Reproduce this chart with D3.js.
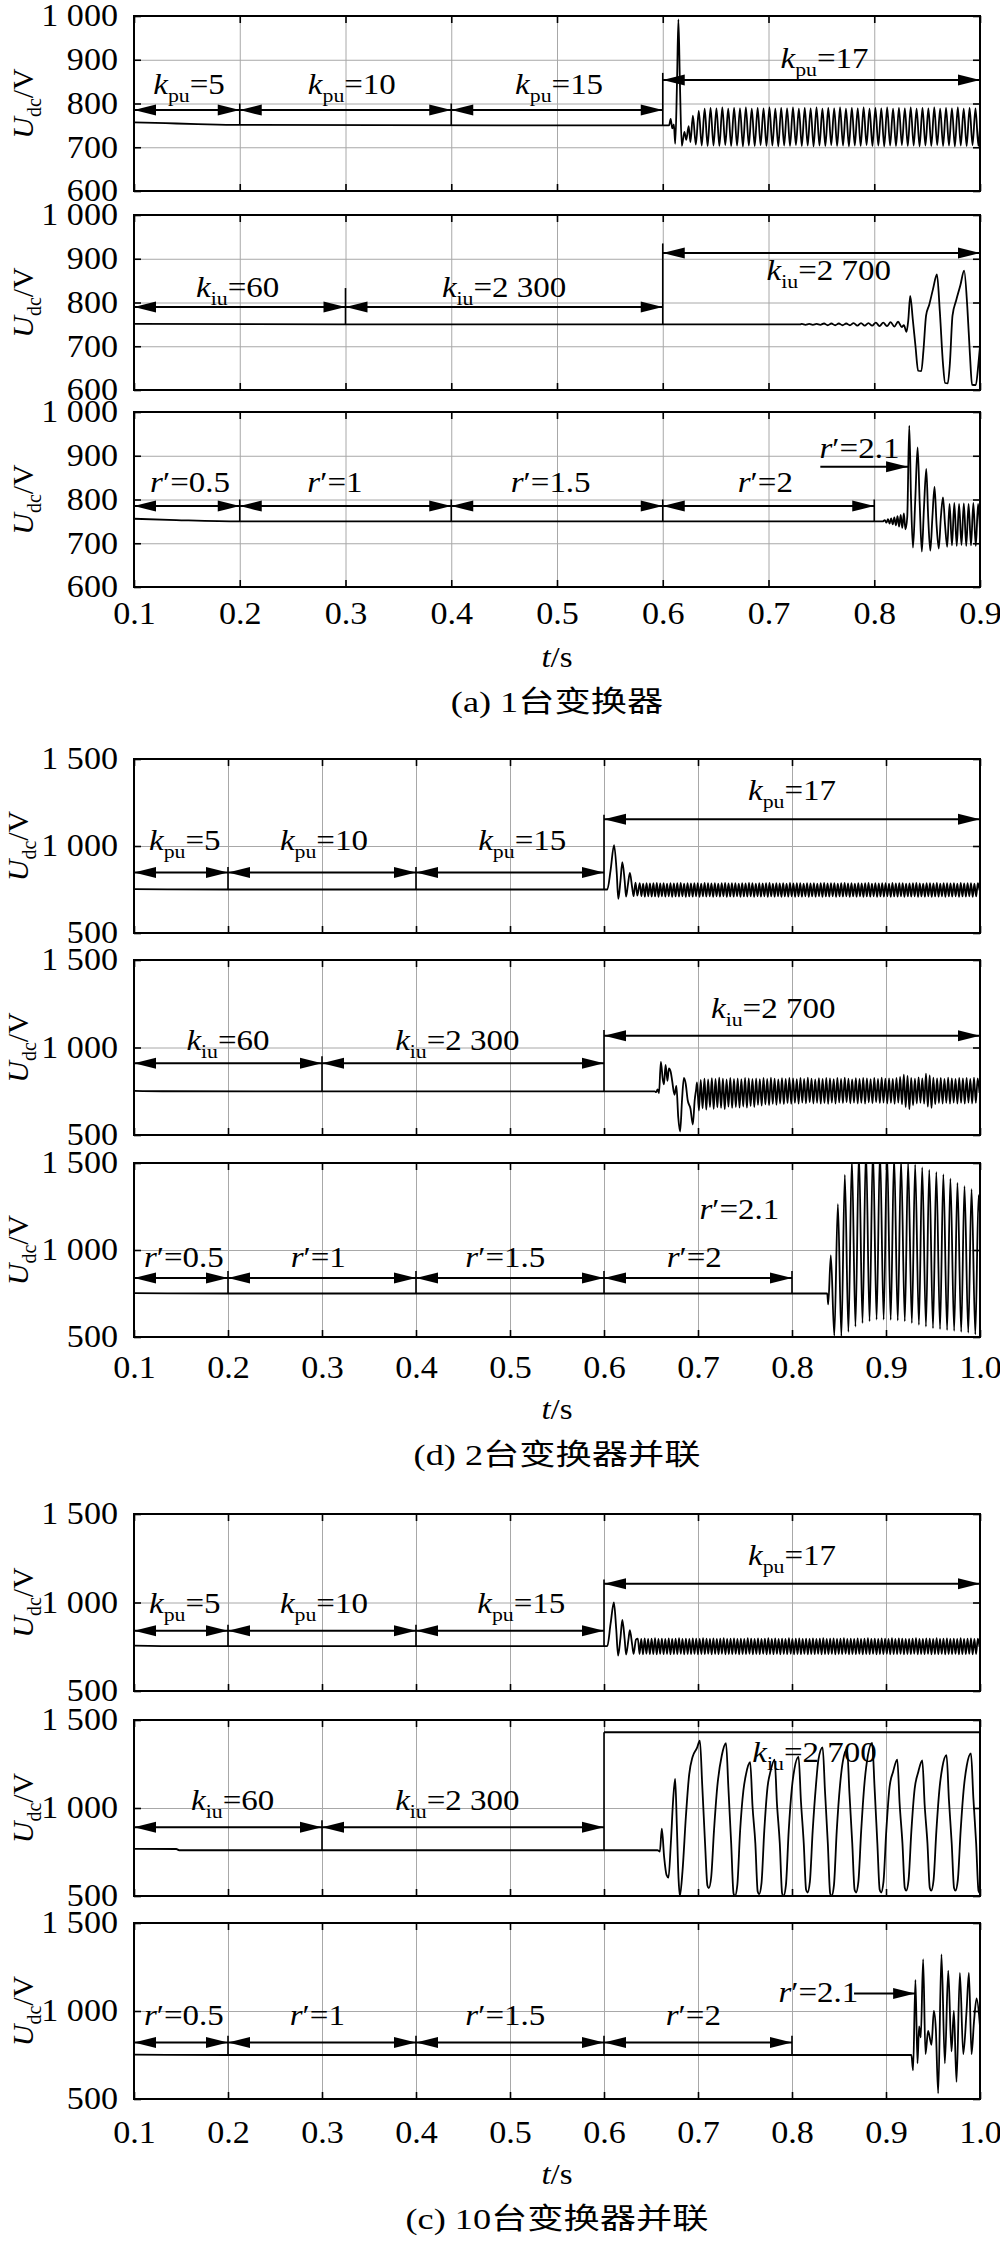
<!DOCTYPE html>
<html><head><meta charset="utf-8">
<script src="https://d3js.org/d3.v7.min.js"></script>
<style>
html,body{margin:0;padding:0;background:#fff;}
svg text{fill:#000;}
</style></head><body>
<svg id="chart" width="1000" height="2242" xmlns="http://www.w3.org/2000/svg"></svg>
<script>
// ================= DATA =================
const xTicksA = [0.1,0.2,0.3,0.4,0.5,0.6,0.7,0.8,0.9];
const xTickLabelsA = ["0.1","0.2","0.3","0.4","0.5","0.6","0.7","0.8","0.9"];
const xTicksB = [0.1,0.2,0.3,0.4,0.5,0.6,0.7,0.8,0.9,1.0];
const xTickLabelsB = ["0.1","0.2","0.3","0.4","0.5","0.6","0.7","0.8","0.9","1.0"];
const yTicksA = [600,700,800,900,1000];
const yTickLabelsA = ["600","700","800","900","1 000"];
const yTicksB = [500,1000,1500];
const yTickLabelsB = ["500","1 000","1 500"];
const captions = ["(a) 1台变换器","(d) 2台变换器并联","(c) 10台变换器并联"];

// ---- (a) panel 1 : k_pu ----
const a1_pre = [[0.1,757],[0.13,755],[0.16,753],[0.2,751],[0.45,750],[0.6,750],[0.606,750],[0.6075,765],[0.609,743],[0.6105,752],[0.6118,708],[0.6135,850],[0.6148,992],[0.6162,850],[0.618,703],[0.6205,735],[0.6222,717],[0.6245,748],[0.6262,712]];
const a1_ripSpan = [0.6285, 0.8985];
const a1_rip = [772,706,783,704,788,703,790,704,789,703,791,705,788,703,790,704,789,702,791,704,
 788,703,790,705,789,703,791,704,788,702,790,704,789,703,791,705,788,703,790,704,
 789,702,791,704,788,703,790,705,789,703,791,704,788,702,790,704,789,703,791,705,
 788,703,790,704,789,702,791,704,788,703,790,705,789,703,791,704,788,702,790,704,
 789,703,791,705,788,703,790,704,789,702,791,704,788,703,790,705,789,703];
const a1_post = [[0.9,750]];
const a1_arrows = [[0.1,0.2,785,3],[0.2,0.4,785,3],[0.4,0.6,785,3],[0.6,0.9,854,3]];
const a1_labels = [["k","pu","=5",0.152,822],["k","pu","=10",0.306,822],["k","pu","=15",0.502,822],["k","pu","=17",0.753,881]];
const a1_marks = [[0.2,800,751],[0.4,800,750],[0.6,870,750]];

// ---- (a) panel 2 : k_iu ----
const a2_pre = [[0.1,751],[0.3,750],[0.6,750],[0.73,750]];
const a2_ripSpan = [0.7315, 0.826];
const a2_rip = [751,749,751,749,751,749,752,748,752,748,752,748,752,748,753,747,753,747,753,747,754,746,754,746,755,745,756,744];
const a2_post = [[0.828,748],[0.8305,733],[0.8322,760],[0.834,815],[0.8365,760],[0.839,700],[0.8415,644],[0.8445,643],[0.8465,690],[0.849,770],[0.852,795],[0.8555,830],[0.8593,864],[0.862,780],[0.865,660],[0.867,616],[0.8695,615],[0.8715,660],[0.874,770],[0.8775,805],[0.8815,840],[0.885,873],[0.888,790],[0.8905,680],[0.8925,612],[0.896,611],[0.8985,660],[0.9,700]];
const a2_arrows = [[0.1,0.3,790,3],[0.3,0.6,790,3],[0.6,0.9,913,3]];
const a2_labels = [["k","iu","=60",0.198,813],["k","iu","=2 300",0.45,813],["k","iu","=2 700",0.757,851]];
const a2_marks = [[0.3,833,750],[0.6,935,750]];

// ---- (a) panel 3 : r' ----
const a3_pts = [[0.1,756],[0.14,753],[0.2,750],[0.808,750],[0.81,753],[0.8115,747],[0.813,755],[0.8145,745],[0.816,757],[0.8175,743],[0.819,759],[0.8205,741],[0.822,762],[0.8235,738],[0.825,765],[0.8265,735],[0.828,768],[0.8295,732],[0.8312,760],[0.8331,969],[0.8348,800],[0.8366,690],[0.8388,800],[0.841,919],[0.843,790],[0.845,681],[0.847,780],[0.8492,870],[0.851,760],[0.853,683],[0.855,760],[0.857,829],[0.859,740],[0.861,688],[0.863,760],[0.865,805],[0.867,740],[0.869,692],[0.8712,790],[0.8735,695],[0.8757,792],[0.878,694],[0.8802,790],[0.8825,696],[0.8847,791],[0.887,694],[0.8892,790],[0.8915,695],[0.8937,792],[0.896,694],[0.8982,790],[0.9,730]];
const a3_arrows = [[0.1,0.2,785,3],[0.2,0.4,785,3],[0.4,0.6,785,3],[0.6,0.8,785,3],[0.749,0.832,875,2]];
const a3_labels = [["r","","′=0.5",0.153,818],["r","","′=1",0.29,818],["r","","′=1.5",0.494,818],["r","","′=2",0.697,818],["r","","′=2.1",0.786,895]];
const a3_marks = [[0.2,800,750],[0.4,800,750],[0.6,800,750],[0.8,800,750]];

// ---- (d) panel 1 : k_pu ----
const d1_pre = [[0.1,752],[0.2,750],[0.6,750],[0.6035,750],[0.607,860],[0.6107,1005],[0.6135,850],[0.6152,696],[0.6175,800],[0.6195,907],[0.622,800],[0.6235,709],[0.6255,780],[0.6275,845],[0.63,760],[0.6315,712],[0.6335,790],[0.6355,715]];
const d1_ripSpan = [0.638, 0.9995];
const d1_rip = [786,712,784,709,787,711,785,709,786,710,788,708,785,711,786,709,784,710,787,708,
 785,710,786,709,788,711,784,708,786,710,785,709,787,711,786,708,784,710,788,709,
 786,711,785,708,787,710,784,709,786,711,788,708,785,710,786,709,787,711,784,708,
 786,710,785,709,788,711,786,708,784,710,787,709,785,711,786,708,788,710,784,709,
 787,711,785,708,786,710,784,709,788,711,785,708,786,710,787,709,784,711,786,708,
 785,710,787,709,784,711,786,708,788,710,785,709,786,711,787,708,784,710,786,709,
 788,711,785,708,786,710,784,709,787,711,785,708,786,710,788,709,784,711,786,708,
 785,710,787,709,786,711,784,708,788,710,785,709,787,711,786,708,784,710,785,709,
 786,711,788,708,785,710,784,709,787,711,786,708,785,710,788,709,784,711,786,708,
 787,710,785,709,786,711,784,708,788,710,785,709,786,711,787,708,784,710,786,745];
const d1_arrows = [[0.1,0.2,848,3],[0.2,0.4,848,3],[0.4,0.6,848,3],[0.6,1.0,1154,3]];
const d1_labels = [["k","pu","=5",0.154,977],["k","pu","=10",0.302,977],["k","pu","=15",0.513,977],["k","pu","=17",0.80,1265]];
const d1_marks = [[0.2,880,750],[0.4,880,750],[0.6,1180,750]];

// ---- (d) panel 2 : k_iu ----
const d2_pre = [[0.1,752],[0.13,750],[0.6,749],[0.654,749],[0.6555,745],[0.657,760],[0.6585,740],[0.6605,918],[0.6625,820],[0.6638,790],[0.6655,900],[0.6675,810],[0.669,880],[0.671,860],[0.6725,810],[0.675,730],[0.677,780],[0.679,600],[0.681,520],[0.683,700],[0.685,826],[0.687,790],[0.689,700],[0.692,650],[0.6945,560],[0.6965,700],[0.698,760]];
const d2_ripSpan = [0.699, 0.9995];
const d2_rip = [800,640,815,652,822,645,818,660,825,650,820,658,828,655,822,648,818,662,826,655,821,660,824,657,819,663,827,656,823,665,820,660,
 824,672,819,668,826,675,821,670,828,678,822,673,818,680,825,676,820,682,827,678,823,684,819,679,826,685,821,681,828,686,822,680,818,684,825,679,
 820,683,827,678,823,685,819,680,826,686,821,682,828,687,822,681,818,685,825,680,820,684,827,679,823,686,819,681,826,687,821,682,828,685,822,680,
 824,684,820,678,827,685,832,675,845,660,838,648,826,670,822,680,829,684,824,679,850,662,840,655,828,675,823,683,826,680,821,684,828,679,824,685,820,680,827,684,823,679,826,685,821,680,828,684,824,740];
const d2_arrows = [[0.1,0.3,910,3],[0.3,0.6,910,3],[0.6,1.0,1067,3]];
const d2_labels = [["k","iu","=60",0.2,986],["k","iu","=2 300",0.444,986],["k","iu","=2 700",0.78,1168]];
const d2_marks = [[0.3,950,750],[0.6,1100,750]];

// ---- (d) panel 3 : r' ----
const d3_pts = [[0.1,752],[0.2,750],[0.8375,750],[0.8385,687],[0.8413,969],[0.845,508],[0.8488,1264],[0.8525,505],[0.8562,1431],[0.86,530],[0.8637,1520],[0.8675,560],[0.8712,1560],[0.875,580],[0.8787,1580],[0.8825,590],[0.8861,1580],[0.89,600],[0.8936,1570],[0.8975,600],[0.9011,1560],[0.905,598],[0.9086,1540],[0.9125,595],[0.916,1520],[0.92,590],[0.9235,1505],[0.9275,580],[0.931,1490],[0.935,570],[0.9385,1475],[0.9425,560],[0.946,1460],[0.95,550],[0.9535,1448],[0.9575,545],[0.961,1434],[0.965,540],[0.9685,1410],[0.9725,535],[0.976,1385],[0.98,530],[0.9835,1367],[0.9875,525],[0.991,1350],[0.995,515],[0.9985,1315],[1.0,1200]];
const d3_arrows = [[0.1,0.2,839,3],[0.2,0.4,839,3],[0.4,0.6,839,3],[0.6,0.8,839,3]];
const d3_labels = [["r","","′=0.5",0.153,902],["r","","′=1",0.296,902],["r","","′=1.5",0.495,902],["r","","′=2",0.696,902],["r","","′=2.1",0.744,1180]];
const d3_marks = [[0.2,880,750],[0.4,880,750],[0.6,880,750],[0.8,880,750]];

// ---- (c) panel 1 : k_pu ----
const c1_pre = [[0.1,756],[0.15,753],[0.6,753],[0.6035,753],[0.607,880],[0.6105,1000],[0.613,850],[0.615,700],[0.6175,800],[0.6195,901],[0.622,790],[0.6235,706],[0.626,790],[0.6275,844],[0.63,760],[0.6315,710],[0.634,790]];
const c1_ripSpan = [0.636, 0.9995];
const c1_rip = [796,709,794,707,797,710,795,708,796,709,798,707,795,710,796,708,794,709,797,707,
 795,709,796,708,798,710,794,707,796,709,795,708,797,710,796,707,794,709,798,708,
 796,710,795,707,797,709,794,708,796,710,798,707,795,709,796,708,797,710,794,707,
 796,709,795,708,798,710,796,707,794,709,797,708,795,710,796,707,798,709,794,708,
 797,710,795,707,796,709,794,708,798,710,795,707,796,709,797,708,794,710,796,707,
 795,709,797,708,794,710,796,707,798,709,795,708,796,710,797,707,794,709,796,708,
 798,710,795,707,796,709,794,708,797,710,795,707,796,709,798,708,794,710,796,707,
 795,709,797,708,796,710,794,707,798,709,795,708,797,710,796,707,794,709,795,708,
 796,710,798,707,795,709,794,708,797,710,796,707,795,709,798,708,794,710,796,707,
 797,709,795,708,796,710,794,707,798,709,795,708,796,710,797,707,794,709,796,750];
const c1_arrows = [[0.1,0.2,841,3],[0.2,0.4,841,3],[0.4,0.6,841,3],[0.6,1.0,1106,3]];
const c1_labels = [["k","pu","=5",0.154,941],["k","pu","=10",0.302,941],["k","pu","=15",0.512,941],["k","pu","=17",0.80,1210]];
const c1_marks = [[0.2,875,753],[0.4,875,753],[0.6,1130,753]];

// ---- (c) panel 2 : k_iu ----
const c2_pts = [[0.1,768],[0.145,767],[0.148,760],[0.657,760],[0.6594,752],[0.6615,882],[0.664,720],[0.6665,620],[0.6686,605],[0.6711,800],[0.6736,1050],[0.6757,1166],[0.6775,900],[0.6793,600],[0.6807,500],[0.6835,640],[0.6871,950],[0.6906,1190],[0.6942,1290],[0.6988,1340],[0.702,1382],
 [0.7045,1130],[0.7075,800],[0.71,560],[0.7115,545],[0.714,605],[0.717,870],[0.7205,1120],[0.7253,1298],[0.7298,1368],
 [0.7323,1118],[0.7353,800],[0.7378,515],[0.7393,500],[0.7418,560],[0.7448,870],[0.7483,1100],[0.751,1190],[0.7555,1260],
 [0.758,1010],[0.761,800],[0.7635,525],[0.765,510],[0.7675,570],[0.7705,870],[0.774,1120],[0.777,1205],[0.7815,1275],
 [0.784,1025],[0.787,800],[0.7895,515],[0.791,500],[0.7935,560],[0.7965,870],[0.8,1120],[0.8025,1220],[0.807,1290],
 [0.8095,1040],[0.8125,800],[0.815,535],[0.8165,520],[0.819,580],[0.822,870],[0.8255,1130],[0.8281,1275],[0.8326,1345],
 [0.8351,1095],[0.8381,800],[0.8406,515],[0.8421,500],[0.8446,560],[0.8476,870],[0.8511,1130],[0.8541,1265],[0.8586,1335],
 [0.8611,1085],[0.8641,800],[0.8666,535],[0.8681,520],[0.8706,580],[0.8736,870],[0.8771,1140],[0.8808,1300],[0.8853,1370],
 [0.8878,1120],[0.8908,800],[0.8933,535],[0.8948,520],[0.8973,580],[0.9003,870],[0.9038,1120],[0.9075,1205],[0.912,1275],
 [0.9145,1025],[0.9175,800],[0.92,545],[0.9215,530],[0.924,590],[0.927,870],[0.9305,1110],[0.9341,1200],[0.9386,1270],
 [0.9411,1020],[0.9441,800],[0.9466,545],[0.9481,530],[0.9506,590],[0.9536,870],[0.9571,1120],[0.9599,1230],[0.9644,1300],
 [0.9669,1050],[0.9699,800],[0.9724,545],[0.9739,530],[0.9764,590],[0.9794,870],[0.9829,1120],[0.9859,1240],[0.9904,1310],
 [0.9929,1060],[0.9959,800],[0.9984,530],[1.0,515]];
const c2_arrows = [[0.1,0.3,890,3],[0.3,0.6,890,3],[0.6,1.0,1430,0]];
const c2_labels = [["k","iu","=60",0.205,989],["k","iu","=2 300",0.444,989],["k","iu","=2 700",0.824,1263]];
const c2_marks = [[0.3,930,760],[0.6,1430,760]];

// ---- (c) panel 3 : r' ----
const c3_pts = [[0.1,752],[0.2,750],[0.927,750],[0.9288,663],[0.9313,1176],[0.9335,703],[0.9352,913],[0.937,850],[0.9395,1295],[0.942,755],[0.9448,887],[0.9484,808],[0.9509,1000],[0.953,900],[0.9555,532],[0.959,1321],[0.9626,703],[0.9662,1229],[0.9697,771],[0.9722,1000],[0.975,597],[0.9786,1216],[0.9822,755],[0.9857,1000],[0.9882,1216],[0.991,755],[0.9936,939],[0.9964,1071],[1.0,913]];
const c3_arrows = [[0.1,0.2,821,3],[0.2,0.4,821,3],[0.4,0.6,821,3],[0.6,0.8,821,3],[0.866,0.931,1100,2]];
const c3_labels = [["r","","′=0.5",0.153,921],["r","","′=1",0.295,921],["r","","′=1.5",0.495,921],["r","","′=2",0.695,921],["r","","′=2.1",0.828,1053]];
const c3_marks = [[0.2,860,750],[0.4,860,750],[0.6,860,750],[0.8,860,750]];

// ================= DRAWING =================
const svg = d3.select('#chart');
const SERIF = '"Liberation Serif","Times New Roman",serif';
const CJK = '"Liberation Serif","Noto Sans CJK SC",serif';
const X0 = 134, X1 = 980;
const SX = 1.1;
const defs = svg.append('defs');
let clipN = 0;

function ripple(span, vals) {
  const n = vals.length;
  return vals.map((v, i) => [span[0] + (span[1] - span[0]) * i / (n - 1), v]);
}

function label(g, x, y, it, sub, rest, size) {
  const t = g.append('text').attr('transform', `translate(${x},${y}) scale(${SX},1)`)
    .attr('text-anchor', 'middle').attr('font-size', size).attr('font-family', SERIF);
  t.append('tspan').attr('font-style', 'italic').text(it);
  if (sub) {
    t.append('tspan').attr('font-size', size * 0.66).attr('dy', size * 0.26).text(sub);
    t.append('tspan').attr('dy', -size * 0.26).text(rest);
  } else {
    t.append('tspan').text(rest);
  }
}

function drawPanel(p) {
  const x = d3.scaleLinear().domain([0.1, p.xMax]).range([X0, X1]);
  const y = d3.scaleLinear().domain(p.yDom).range([p.bottom, p.top]);
  const h = p.bottom - p.top, w = X1 - X0;
  const g = svg.append('g');
  const styleGrid = s => { s.select('.domain').remove(); s.selectAll('line').attr('stroke', '#a8a8a8').attr('stroke-width', 1); };
  g.append('g').attr('transform', `translate(0,${p.bottom})`)
    .call(d3.axisBottom(x).tickValues(p.xTicks.slice(1, -1)).tickSize(-h).tickFormat(''))
    .call(styleGrid);
  g.append('g').attr('transform', `translate(${X0},0)`)
    .call(d3.axisLeft(y).tickValues(p.yTicks.slice(1, -1)).tickSize(-w).tickFormat(''))
    .call(styleGrid);
  const styleTick = s => { s.select('.domain').remove(); s.selectAll('line').attr('stroke', '#000').attr('stroke-width', 1.6); };
  [[d3.axisBottom(x).tickValues(p.xTicks), `translate(0,${p.bottom})`],
   [d3.axisTop(x).tickValues(p.xTicks), `translate(0,${p.top})`],
   [d3.axisLeft(y).tickValues(p.yTicks), `translate(${X0},0)`],
   [d3.axisRight(y).tickValues(p.yTicks), `translate(${X1},0)`]].forEach(([ax, tr]) => {
    g.append('g').attr('transform', tr).call(ax.tickSize(-7).tickFormat('')).call(styleTick);
  });
  // y tick labels
  const yl = g.append('g').attr('transform', `translate(${X0},0)`)
    .call(d3.axisLeft(y).tickValues(p.yTicks).tickSize(0).tickPadding(16 / SX).tickFormat((d, i) => p.yLabels[i]));
  yl.select('.domain').remove();
  yl.attr('font-family', SERIF).attr('font-size', 31);
  yl.selectAll('text').attr('transform', `scale(${SX},1)`).attr('fill', '#000');
  // y axis title
  const yt = g.append('text').attr('transform', `translate(${p.titleX},${(p.top + p.bottom) / 2}) rotate(-90)`)
    .attr('text-anchor', 'middle').attr('font-size', 30).attr('font-family', SERIF);
  yt.append('tspan').attr('font-style', 'italic').text('U');
  yt.append('tspan').attr('font-size', 20).attr('dy', 8).text('dc');
  yt.append('tspan').attr('dy', -8).text('/V');
  // transition markers
  p.marks.forEach(([t, u0, u1]) => {
    g.append('line').attr('x1', x(t)).attr('x2', x(t)).attr('y1', y(u0)).attr('y2', y(u1))
      .attr('stroke', '#000').attr('stroke-width', 1.6);
  });
  // signal
  const cid = 'clip' + (clipN++);
  defs.append('clipPath').attr('id', cid).append('rect').attr('x', X0).attr('y', p.top).attr('width', w).attr('height', h);
  const line = d3.line().x(d => x(d[0])).y(d => y(d[1])).curve(d3.curveMonotoneX);
  g.append('path').datum(p.series).attr('clip-path', `url(#${cid})`).attr('fill', 'none')
    .attr('stroke', '#000').attr('stroke-width', 1.8).attr('stroke-linejoin', 'round').attr('d', line);
  // arrows
  const HL = 22, HH = 5.5;
  p.arrows.forEach(([t0, t1, u, heads]) => {
    const xa = x(t0), xb = x(t1), yy = y(u);
    g.append('line').attr('x1', xa).attr('x2', xb).attr('y1', yy).attr('y2', yy).attr('stroke', '#000').attr('stroke-width', 2);
    if (heads & 1) g.append('path').attr('d', `M${xa},${yy}L${xa + HL},${yy - HH}L${xa + HL},${yy + HH}Z`).attr('fill', '#000');
    if (heads & 2) g.append('path').attr('d', `M${xb},${yy}L${xb - HL},${yy - HH}L${xb - HL},${yy + HH}Z`).attr('fill', '#000');
  });
  // labels
  p.labels.forEach(([it, sub, rest, t, u]) => label(g, x(t), y(u), it, sub, rest, 30));
  // frame
  g.append('rect').attr('x', X0).attr('y', p.top).attr('width', w).attr('height', h)
    .attr('fill', 'none').attr('stroke', '#000').attr('stroke-width', 2);
  // x tick labels
  if (p.xLabelCenter) {
    const xl = g.append('g').attr('transform', `translate(0,${p.xLabelCenter - 0.71 * 31 + 10.5})`)
      .call(d3.axisBottom(x).tickValues(p.xTicks).tickSize(0).tickPadding(0).tickFormat((d, i) => p.xLabels[i]));
    xl.select('.domain').remove();
    xl.attr('font-family', SERIF).attr('font-size', 31);
    xl.selectAll('text').attr('transform', `scale(${SX},1)`).attr('fill', '#000');
  }
  return x;
}

function footer(cx, tsY, capY, cap) {
  const t = svg.append('text').attr('transform', `translate(${cx},${tsY}) scale(${SX},1)`)
    .attr('text-anchor', 'middle').attr('font-size', 30).attr('font-family', SERIF);
  t.append('tspan').attr('font-style', 'italic').text('t');
  t.append('tspan').text('/s');
  svg.append('text').attr('transform', `translate(${cx},${capY}) scale(1.25,1)`)
    .attr('text-anchor', 'middle').attr('font-size', 29).attr('font-family', CJK).text(cap);
}

const groups = [
  { xMax: 0.9, xTicks: xTicksA, xLabels: xTickLabelsA, yDom: [600, 1000], yTicks: yTicksA, yLabels: yTickLabelsA, titleX: 33,
    tops: [16, 215, 412], bottoms: [191, 390, 587], xLabelCenter: 613.5, tsY: 667, capY: 712, cap: captions[0],
    panels: [
      { series: a1_pre.concat(ripple(a1_ripSpan, a1_rip), a1_post), arrows: a1_arrows, labels: a1_labels, marks: a1_marks },
      { series: a2_pre.concat(ripple(a2_ripSpan, a2_rip), a2_post), arrows: a2_arrows, labels: a2_labels, marks: a2_marks },
      { series: a3_pts, arrows: a3_arrows, labels: a3_labels, marks: a3_marks }] },
  { xMax: 1.0, xTicks: xTicksB, xLabels: xTickLabelsB, yDom: [500, 1500], yTicks: yTicksB, yLabels: yTickLabelsB, titleX: 28,
    tops: [759, 960, 1163], bottoms: [933, 1135, 1337], xLabelCenter: 1367, tsY: 1419, capY: 1465, cap: captions[1],
    panels: [
      { series: d1_pre.concat(ripple(d1_ripSpan, d1_rip)), arrows: d1_arrows, labels: d1_labels, marks: d1_marks },
      { series: d2_pre.concat(ripple(d2_ripSpan, d2_rip)), arrows: d2_arrows, labels: d2_labels, marks: d2_marks },
      { series: d3_pts, arrows: d3_arrows, labels: d3_labels, marks: d3_marks }] },
  { xMax: 1.0, xTicks: xTicksB, xLabels: xTickLabelsB, yDom: [500, 1500], yTicks: yTicksB, yLabels: yTickLabelsB, titleX: 33,
    tops: [1514, 1720, 1923], bottoms: [1691, 1896, 2099], xLabelCenter: 2132, tsY: 2184, capY: 2229, cap: captions[2],
    panels: [
      { series: c1_pre.concat(ripple(c1_ripSpan, c1_rip)), arrows: c1_arrows, labels: c1_labels, marks: c1_marks },
      { series: c2_pts, arrows: c2_arrows, labels: c2_labels, marks: c2_marks },
      { series: c3_pts, arrows: c3_arrows, labels: c3_labels, marks: c3_marks }] }
];

groups.forEach(G => {
  G.panels.forEach((P, i) => {
    drawPanel(Object.assign({}, P, {
      xMax: G.xMax, xTicks: G.xTicks, xLabels: G.xLabels, yDom: G.yDom, yTicks: G.yTicks, yLabels: G.yLabels,
      titleX: G.titleX, top: G.tops[i], bottom: G.bottoms[i], xLabelCenter: i === 2 ? G.xLabelCenter : null
    }));
  });
  footer((X0 + X1) / 2, G.tsY, G.capY, G.cap);
});
</script>
</body></html>
